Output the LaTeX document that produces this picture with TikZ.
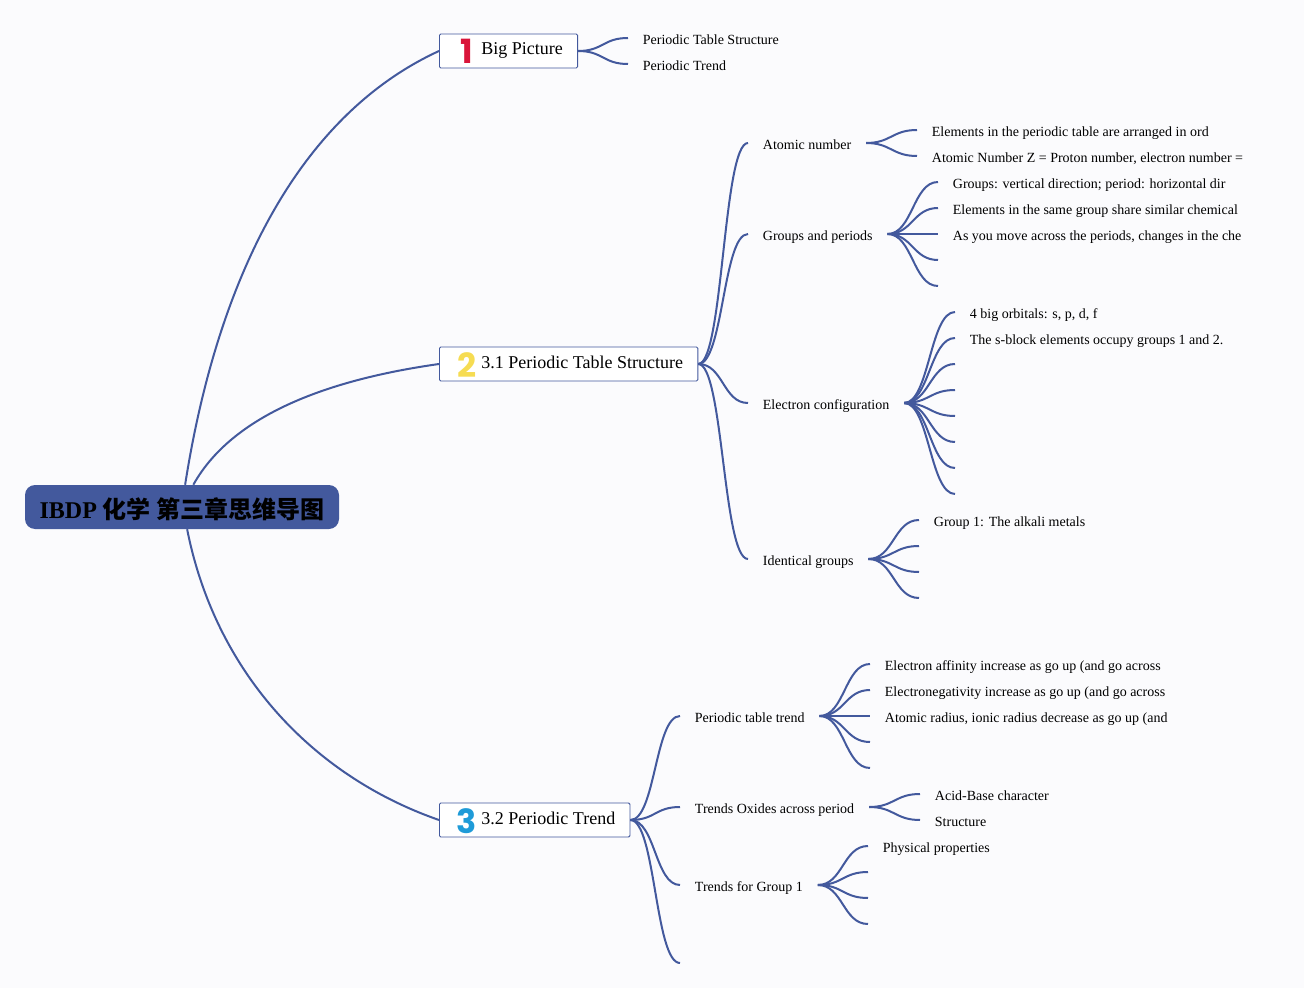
\documentclass[tikz,border=0pt]{standalone}
\usepackage{fontspec}
\setmainfont{Liberation Serif}
\newfontfamily\cjk{Noto Sans CJK SC}
\newfontfamily\digitfont{Poppins}
\definecolor{paper}{HTML}{FBFBFD}
\definecolor{mapblue}{HTML}{43599D}
\definecolor{oneRed}{HTML}{D9153A}
\definecolor{twoYellow}{HTML}{F6DC52}
\definecolor{threeBlue}{HTML}{1F9BD8}
\tikzset{
  branch/.style={draw=mapblue, line width=1.5pt},
  rootnode/.style={fill=mapblue, rounded corners=7.5pt, minimum width=235.5pt, minimum height=33pt, inner sep=0pt, text height=19pt, text depth=2.4pt, font=\fontsize{18}{20}\selectfont\bfseries},
  topic/.style={draw=mapblue, fill=white, rounded corners=1pt, line width=.7pt, anchor=west, minimum height=25.5pt, inner xsep=0pt, inner ysep=0pt, text height=9pt, text depth=3pt, font=\fontsize{13.5}{16}\selectfont},
  digit/.style={inner sep=0pt, font=\digitfont\fontsize{25}{25}\selectfont\bfseries},
  leaf/.style={anchor=west, inner xsep=11pt, inner ysep=0pt, text height=12pt, text depth=2.5pt, font=\fontsize{10.5}{12}\selectfont},
}
\begin{document}
\begin{tikzpicture}[x=.75pt, y=-.75pt]
\fill[paper] (0,0) rectangle (1304,988);
\useasboundingbox (0,0) rectangle (1304,988);

% main topics
\node[rootnode] (root) at (182,507) {IBDP {\cjk 化学 第三章思维导图}};
\node[topic] (big) at (439,51) {\hspace*{31.5pt}Big Picture\hspace*{11pt}};
\node[topic] (table) at (439,364) {\hspace*{31.5pt}3.1 Periodic Table Structure\hspace*{11pt}};
\node[topic] (trend) at (439,820) {\hspace*{31.5pt}3.2 Periodic Trend\hspace*{11pt}};
\node[digit, text=oneRed] (one) at (467,51) {1};
\node[digit, text=twoYellow] (two) at (467,365) {2};
\node[digit, text=threeBlue] (three) at (467,821) {3};

% big picture
\node[leaf] (bigstruct) at (628,38) {Periodic Table Structure};
\node[leaf] (bigtrend) at (628,64) {Periodic Trend};

% periodic table structure
\node[leaf] (atomic) at (748,143) {Atomic number};
\node[leaf] (groups) at (748,234) {Groups and periods};
\node[leaf] (config) at (748,403) {Electron configuration};
\node[leaf] (identical) at (748,559) {Identical groups};

\node[leaf] (atomicA) at (917,130) {Elements in the periodic table are arranged in ord};
\node[leaf] (atomicB) at (917,156) {Atomic Number Z = Proton number, electron number =};

\node[leaf] (groupsA) at (938,182) {Groups: vertical direction; period: horizontal dir};
\node[leaf] (groupsB) at (938,208) {Elements in the same group share similar chemical};
\node[leaf] (groupsC) at (938,234) {As you move across the periods, changes in the che};
\coordinate (groupsD) at (938,260);
\coordinate (groupsE) at (938,286);

\node[leaf] (configA) at (955,312) {4 big orbitals: s, p, d, f};
\node[leaf] (configB) at (955,338) {The s-block elements occupy groups 1 and 2.};
\coordinate (configC) at (955,364);
\coordinate (configD) at (955,390);
\coordinate (configE) at (955,416);
\coordinate (configF) at (955,442);
\coordinate (configG) at (955,468);
\coordinate (configH) at (955,494);

\node[leaf] (identA) at (919,520) {Group 1: The alkali metals};
\coordinate (identB) at (919,546);
\coordinate (identC) at (919,572);
\coordinate (identD) at (919,598);

% periodic trend
\node[leaf] (tabletrend) at (680,716) {Periodic table trend};
\node[leaf] (oxides) at (680,807) {Trends Oxides across period};
\node[leaf] (groupone) at (680,885) {Trends for Group 1};
\coordinate (trendend) at (680,963);

\node[leaf] (tableA) at (870,664) {Electron affinity increase as go up (and go across};
\node[leaf] (tableB) at (870,690) {Electronegativity increase as go up (and go across};
\node[leaf] (tableC) at (870,716) {Atomic radius, ionic radius decrease as go up (and};
\coordinate (tableD) at (870,742);
\coordinate (tableE) at (870,768);

\node[leaf] (oxidesA) at (920,794) {Acid-Base character};
\node[leaf] (oxidesB) at (920,820) {Structure};

\node[leaf] (oneA) at (868,846) {Physical properties};
\coordinate (oneB) at (868,872);
\coordinate (oneC) at (868,898);
\coordinate (oneD) at (868,924);

% connectors
\draw[branch] (root.82) .. controls (218,275) and (300,115) .. (big.west);
\draw[branch] (root.63) .. controls (235,410) and (340,378) .. (table.west);
\draw[branch] (root.-77) .. controls (215,670) and (310,775) .. (trend.west);

\foreach \from/\to in {big/bigstruct.west, big/bigtrend.west,
  table/atomic.west, table/groups.west, table/config.west, table/identical.west,
  atomic/atomicA.west, atomic/atomicB.west,
  groups/groupsA.west, groups/groupsB.west, groups/groupsC.west, groups/groupsD, groups/groupsE,
  config/configA.west, config/configB.west, config/configC, config/configD,
  config/configE, config/configF, config/configG, config/configH,
  identical/identA.west, identical/identB, identical/identC, identical/identD,
  trend/tabletrend.west, trend/oxides.west, trend/groupone.west, trend/trendend,
  tabletrend/tableA.west, tabletrend/tableB.west, tabletrend/tableC.west, tabletrend/tableD, tabletrend/tableE,
  oxides/oxidesA.west, oxides/oxidesB.west,
  groupone/oneA.west, groupone/oneB, groupone/oneC, groupone/oneD}
  \draw[branch] (\from.east) .. controls +(25,0) and +(-25,0) .. (\to);

\end{tikzpicture}
\end{document}
